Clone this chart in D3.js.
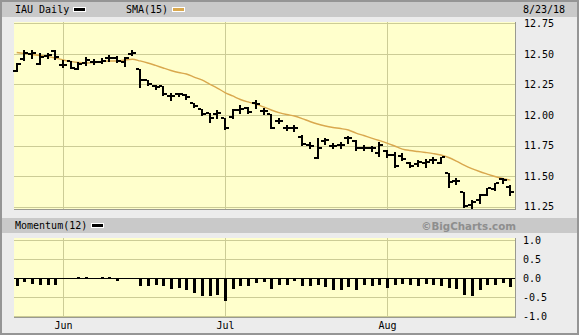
<!DOCTYPE html>
<html>
<head>
<meta charset="utf-8">
<script src="https://cdn.jsdelivr.net/npm/d3@7"></script>
<style>
body{margin:0;background:#fff;}
svg{display:block;}
.ax text{font-family:"DejaVu Sans Mono",monospace;font-size:10px;fill:#000;}
</style>
</head>
<body>
<div id="chart"></div>
<script>
// trading days shown on the chart
const dates = ["2018-05-23","2018-05-24","2018-05-25","2018-05-29","2018-05-30","2018-05-31",
"2018-06-01","2018-06-04","2018-06-05","2018-06-06","2018-06-07","2018-06-08","2018-06-11","2018-06-12","2018-06-13","2018-06-14","2018-06-15","2018-06-18","2018-06-19","2018-06-20","2018-06-21","2018-06-22","2018-06-25","2018-06-26","2018-06-27","2018-06-28","2018-06-29",
"2018-07-02","2018-07-03","2018-07-05","2018-07-06","2018-07-09","2018-07-10","2018-07-11","2018-07-12","2018-07-13","2018-07-16","2018-07-17","2018-07-18","2018-07-19","2018-07-20","2018-07-23","2018-07-24","2018-07-25","2018-07-26","2018-07-27","2018-07-30","2018-07-31",
"2018-08-01","2018-08-02","2018-08-03","2018-08-06","2018-08-07","2018-08-08","2018-08-09","2018-08-10","2018-08-13","2018-08-14","2018-08-15","2018-08-16","2018-08-17","2018-08-20","2018-08-21","2018-08-22","2018-08-23"];

const openVals = [12.361,12.459,12.500,12.418,12.484,12.525,12.410,12.443,12.377,12.426,12.434,12.434,12.467,12.467,12.434,12.500,
12.377,12.287,12.238,12.238,12.156,12.172,12.164,12.098,12.049,12.016,12.008,11.975,11.984,12.041,12.057,12.098,12.033,12.008,
11.951,11.893,11.893,11.820,11.754,11.648,11.787,11.746,11.754,11.811,11.787,11.730,11.730,11.689,11.705,11.672,11.664,11.607,
11.598,11.607,11.631,11.607,11.525,11.459,11.369,11.262,11.303,11.344,11.393,11.475,11.410];
const highVals = [12.426,12.533,12.533,12.508,12.508,12.533,12.451,12.443,12.434,12.475,12.459,12.467,12.492,12.484,12.475,12.533,
12.377,12.287,12.246,12.238,12.180,12.180,12.172,12.098,12.049,12.016,12.041,11.975,12.049,12.082,12.066,12.123,12.057,12.008,
11.975,11.918,11.918,11.836,11.779,11.811,11.811,11.770,11.779,11.828,11.795,11.754,11.746,11.779,11.713,11.697,11.689,11.615,
11.631,11.639,11.656,11.656,11.525,11.484,11.369,11.303,11.352,11.402,11.443,11.484,11.426];
const lowVals = [12.361,12.451,12.467,12.418,12.467,12.459,12.393,12.385,12.377,12.410,12.418,12.426,12.443,12.434,12.402,12.492,
12.230,12.246,12.213,12.164,12.123,12.156,12.131,12.066,12.000,11.943,11.975,11.885,11.975,12.016,12.016,12.057,12.008,11.893,
11.934,11.877,11.869,11.754,11.730,11.648,11.762,11.730,11.730,11.770,11.713,11.713,11.705,11.664,11.656,11.574,11.631,11.574,
11.582,11.574,11.607,11.607,11.410,11.434,11.246,11.238,11.279,11.344,11.385,11.443,11.344];
const closeVals = [12.418,12.508,12.508,12.475,12.492,12.475,12.410,12.385,12.418,12.451,12.434,12.443,12.467,12.443,12.467,12.508,
12.287,12.254,12.230,12.172,12.156,12.172,12.148,12.074,12.008,11.975,12.016,11.893,12.041,12.049,12.025,12.090,12.033,11.893,
11.951,11.893,11.893,11.762,11.746,11.730,11.795,11.746,11.754,11.811,11.730,11.730,11.730,11.754,11.672,11.582,11.639,11.582,
11.615,11.615,11.631,11.656,11.451,11.459,11.254,11.287,11.344,11.402,11.443,11.467,11.369];

// SMA(15)
const smaVals = [12.512,12.504,12.496,12.488,12.480,12.467,12.451,12.439,12.430,12.426,12.429,12.439,12.443,12.443,12.451,12.457,
12.443,12.426,12.406,12.385,12.365,12.348,12.336,12.311,12.287,12.254,12.221,12.184,12.156,12.127,12.107,12.090,12.066,12.041,
12.020,12.004,11.992,11.971,11.947,11.926,11.910,11.898,11.889,11.877,11.852,11.832,11.811,11.791,11.770,11.746,11.721,11.709,
11.701,11.693,11.684,11.672,11.652,11.623,11.590,11.561,11.537,11.516,11.496,11.480,11.467];

// Momentum(12)
const momVals = [-0.22,-0.105,-0.15,-0.19,-0.175,-0.175,0,0,0.03,0.03,0,0.03,0.03,-0.09,0,0,
-0.22,-0.22,-0.19,-0.22,-0.29,-0.26,-0.31,-0.40,-0.48,-0.48,-0.46,-0.61,-0.29,-0.22,-0.22,-0.14,-0.11,-0.29,
-0.19,-0.18,-0.09,-0.22,-0.22,-0.18,-0.25,-0.31,-0.31,-0.25,-0.31,-0.18,-0.22,-0.18,-0.26,-0.18,-0.15,-0.18,
-0.21,-0.15,-0.18,-0.22,-0.26,-0.28,-0.46,-0.48,-0.32,-0.19,-0.18,-0.13,-0.25];

const priceTicks = [11.25,11.50,11.75,12.00,12.25,12.50,12.75];
const momTicks = [-1.0,-0.5,0.0,0.5,1.0];

const W = 579, H = 335;
const left = 14, right = 515;
const main = {top: 22, bottom: 209};
const mom = {top: 238, bottom: 317};

const svg = d3.select("#chart").append("svg")
  .attr("width", W)
  .attr("height", H)
  .attr("shape-rendering", "crispEdges");

// page background and frame
svg.append("rect").attr("width", W).attr("height", H).attr("fill", "#ececec");
svg.append("rect").attr("x", 0).attr("y", 0).attr("width", W).attr("height", 17).attr("fill", "#c9c9c9");
svg.append("rect").attr("x", 0).attr("y", 218).attr("width", W).attr("height", 15).attr("fill", "#c9c9c9");
svg.append("rect").attr("x", 1).attr("y", 1).attr("width", W - 2).attr("height", H - 2)
  .attr("fill", "none").attr("stroke", "#959595").attr("stroke-width", 2);

const x = d3.scaleLinear().domain([-0.35, dates.length - 0.4]).range([left, right]);
const yP = d3.scaleLinear().domain([11.23, 12.762]).range([main.bottom, main.top]);
const yM = d3.scaleLinear().domain([-1.03, 1.05]).range([mom.bottom, mom.top]);

const parse = d3.timeParse("%Y-%m-%d");
const monFmt = d3.timeFormat("%b");
const monthIdx = dates.map((d, i) => i).filter(i => i > 0 && dates[i].slice(5, 7) != dates[i - 1].slice(5, 7));

function panel(top, bottom, yScale, ticks) {
  svg.append("rect")
    .attr("x", left).attr("y", top)
    .attr("width", right - left).attr("height", bottom - top)
    .attr("fill", "#ffffcc");
  let g = svg.append("g");
  g.selectAll(".hg").data(ticks).join("line")
    .attr("x1", left).attr("x2", right)
    .attr("y1", d => Math.round(yScale(d)) + 0.5).attr("y2", d => Math.round(yScale(d)) + 0.5)
    .attr("stroke", "#cccc96");
  g.selectAll(".vg").data(monthIdx).join("line")
    .attr("x1", d => Math.round(x(d)) + 0.5).attr("x2", d => Math.round(x(d)) + 0.5)
    .attr("y1", top).attr("y2", bottom)
    .attr("stroke", "#cccc96");
  // bevel on bottom / right
  svg.append("path")
    .attr("d", `M${left},${bottom + 0.5}H${right + 0.5}V${top}`)
    .attr("fill", "none").attr("stroke", "#9a9a90").attr("stroke-width", 1.5);
}

panel(main.top, main.bottom, yP, priceTicks);
panel(mom.top, mom.bottom, yM, momTicks);

// right axes
svg.append("g").attr("class", "ax")
  .attr("transform", `translate(${right},0)`)
  .call(d3.axisRight(yP).tickValues(priceTicks).tickSize(0).tickPadding(9).tickFormat(d => d.toFixed(2)))
  .call(g => g.select(".domain").remove());
svg.append("g").attr("class", "ax")
  .attr("transform", `translate(${right},0)`)
  .call(d3.axisRight(yM).tickValues(momTicks).tickSize(0).tickPadding(8).tickFormat(d => d.toFixed(1)))
  .call(g => g.select(".domain").remove());

// month axis
svg.append("g").attr("class", "ax")
  .attr("transform", `translate(0,${mom.bottom})`)
  .call(d3.axisBottom(x).tickValues(monthIdx).tickSize(0).tickPadding(5).tickFormat(i => monFmt(parse(dates[i]))))
  .call(g => g.select(".domain").remove());

// SMA line
svg.append("path")
  .datum(smaVals)
  .attr("d", d3.line().x((d, i) => x(i)).y(d => yP(d)).curve(d3.curveMonotoneX))
  .attr("fill", "none")
  .attr("stroke", "#d9a84e")
  .attr("stroke-width", 1.4)
  .attr("shape-rendering", "auto");

// OHLC bars
let bars = svg.append("g").attr("fill", "#000");
dates.forEach((d, i) => {
  let cx = Math.round(x(i));
  let yh = Math.round(yP(highVals[i])), yl = Math.round(yP(lowVals[i]));
  bars.append("rect").attr("x", cx - 1).attr("y", yh).attr("width", 2).attr("height", Math.max(2, yl - yh + 1));
  bars.append("rect").attr("x", cx - 4).attr("y", Math.round(yP(openVals[i])) - 1).attr("width", 3).attr("height", 2);
  bars.append("rect").attr("x", cx + 1).attr("y", Math.round(yP(closeVals[i])) - 1).attr("width", 3).attr("height", 2);
});

// momentum bars
svg.append("g").selectAll("rect").data(momVals).join("rect")
  .attr("x", (d, i) => Math.round(x(i)) - 1)
  .attr("y", d => Math.round(Math.min(yM(d), yM(0))))
  .attr("width", 3)
  .attr("height", d => Math.round(Math.abs(yM(d) - yM(0))))
  .attr("fill", "#000");
svg.append("line")
  .attr("x1", left).attr("x2", right)
  .attr("y1", Math.round(yM(0)) + 0.5).attr("y2", Math.round(yM(0)) + 0.5)
  .attr("stroke", "#000");

// header texts and legends
const mono = "DejaVu Sans Mono, monospace";
function label(tx, ty, s, anchor) {
  svg.append("text").attr("x", tx).attr("y", ty).text(s)
    .attr("font-family", mono).attr("font-size", 10).attr("text-anchor", anchor || "start");
}
function swatch(sx, sy, col) {
  svg.append("rect").attr("x", sx).attr("y", sy).attr("width", 12).attr("height", 4)
    .attr("fill", col).attr("stroke", "#fff").attr("stroke-width", 1);
}
label(15, 13, "IAU Daily");
swatch(73.5, 7.5, "#000");
label(126, 13, "SMA(15)");
swatch(172.5, 7.5, "#d9a84e");
label(523, 13, "8/23/18");
label(15, 229, "Momentum(12)");
swatch(91.5, 223.5, "#000");
svg.append("text").attr("x", 516).attr("y", 229.5).text("\u00a9BigCharts.com")
  .attr("font-family", "DejaVu Sans, sans-serif").attr("font-weight", "bold")
  .attr("font-size", 10.3).attr("fill", "#8e8e8e").attr("text-anchor", "end");
</script>
</body>
</html>
